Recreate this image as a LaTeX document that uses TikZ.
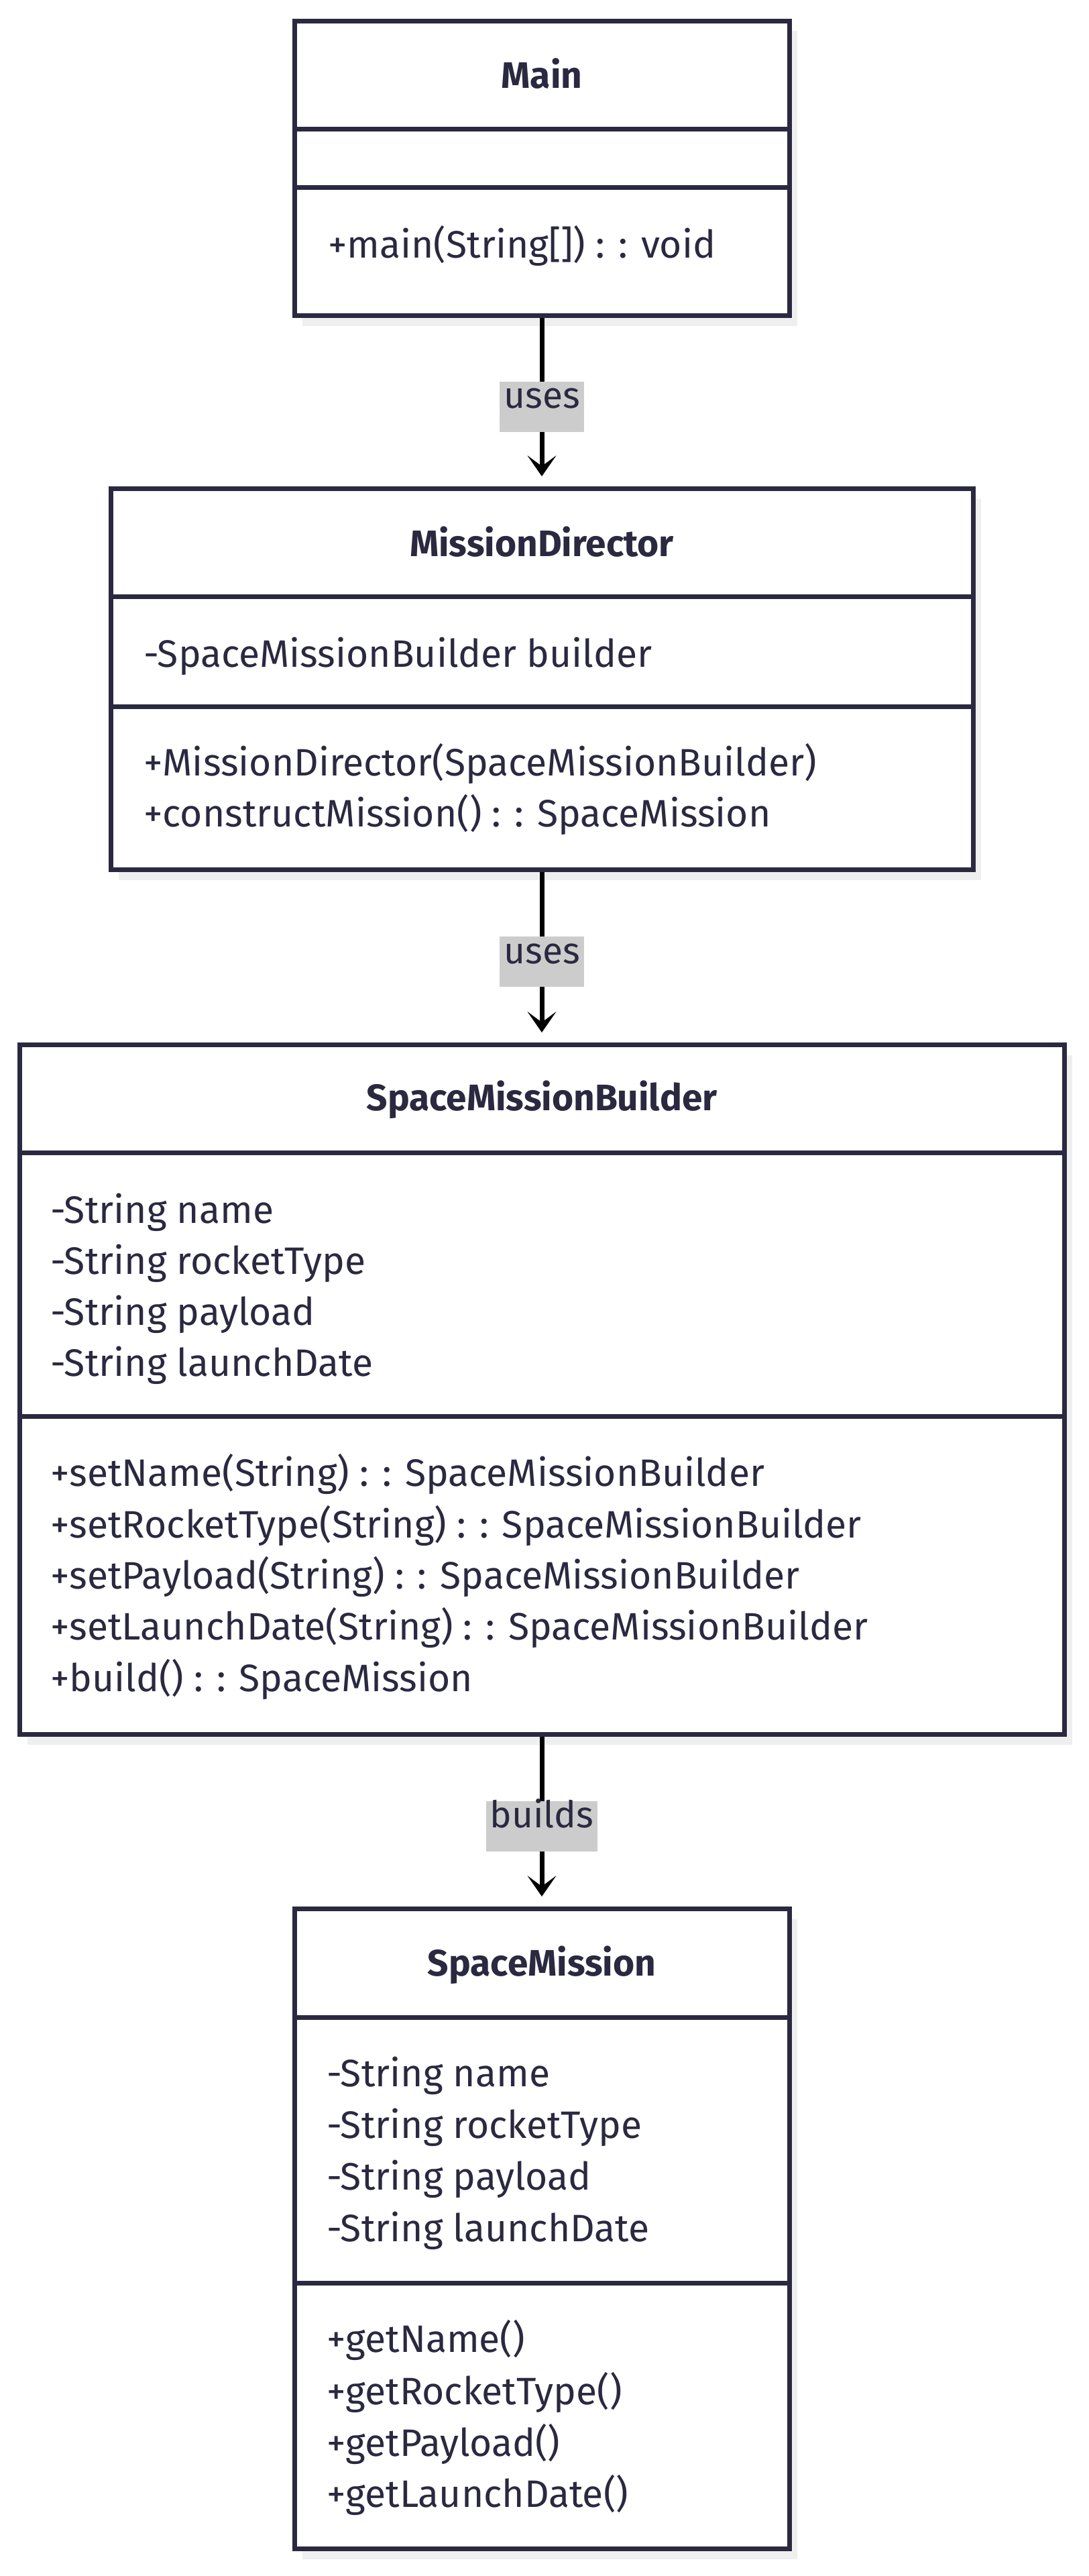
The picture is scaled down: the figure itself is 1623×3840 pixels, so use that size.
\documentclass[tikz,border=0pt]{standalone}
\usepackage{fontspec}
\setmainfont{Fira Sans}
\usetikzlibrary{arrows.meta,shadows}
\definecolor{ink}{RGB}{42,41,64}
\definecolor{lblbg}{RGB}{204,204,204}
\definecolor{shade}{RGB}{239,239,239}
\begin{document}
\begin{tikzpicture}[x=1pt,y=-1pt,
 classbox/.style={draw=ink, line width=7pt, fill=white, inner sep=0pt, anchor=north,
   drop shadow={shadow xshift=12pt, shadow yshift=-15pt, fill=shade, opacity=1}},
 divline/.style={draw=ink, line width=7pt},
 title/.style={font=\fontsize{55}{66}\selectfont\bfseries, text=ink, inner sep=0pt, text height=0.7em, text depth=0pt, yshift=-16pt},
 member/.style={font=\fontsize{57}{68}\selectfont, text=ink, inner sep=0pt, anchor=west, text height=0.7em, text depth=0pt, yshift=-15pt},
 conn/.style={draw=black, line width=7pt, -{Stealth[length=31pt, width=43pt, inset=16pt, line width=0.5pt]}},
 lbl/.style={fill=lblbg, text=ink, font=\fontsize{55}{66}\selectfont, inner xsep=6pt, inner ysep=0pt, minimum height=75pt, text height=0.5em, text depth=0pt, yshift=-14pt}
]
\path[use as bounding box, fill=white] (0,0) rectangle (1623,3840);

% ---------- Main ----------
\node[classbox, minimum width=738pt, minimum height=439pt] (main) at (808,28) {};
\draw[divline] (main.west |- 0,193) -- (main.east |- 0,193);
\draw[divline] (main.west |- 0,280) -- (main.east |- 0,280);
\node[title] (main-t) at (808,112) {Main};
\node[member] (main-m1) at (489,366) {+main(String[]) : : void};

% ---------- MissionDirector ----------
\node[classbox, minimum width=1286pt, minimum height=568pt] (md) at (808,725) {};
\draw[divline] (md.west |- 0,889) -- (md.east |- 0,889);
\draw[divline] (md.west |- 0,1053) -- (md.east |- 0,1053);
\node[title] (md-t) at (808,810) {MissionDirector};
\node[member] (md-a1) at (214,976) {-SpaceMissionBuilder builder};
\node[member] (md-m1) at (214,1138) {+MissionDirector(SpaceMissionBuilder)};
\node[member] (md-m2) at (214,1214) {+constructMission() : : SpaceMission};

% ---------- SpaceMissionBuilder ----------
\node[classbox, minimum width=1558pt, minimum height=1028pt] (smb) at (808,1554) {};
\draw[divline] (smb.west |- 0,1718) -- (smb.east |- 0,1718);
\draw[divline] (smb.west |- 0,2111) -- (smb.east |- 0,2111);
\node[title] (smb-t) at (808,1636) {SpaceMissionBuilder};
\node[member] (smb-a1) at (75,1805) {-String name};
\node[member] (smb-a2) at (75,1881) {-String rocketType};
\node[member] (smb-a3) at (75,1957) {-String payload};
\node[member] (smb-a4) at (75,2033) {-String launchDate};
\node[member] (smb-m1) at (75,2197) {+setName(String) : : SpaceMissionBuilder};
\node[member] (smb-m2) at (75,2274) {+setRocketType(String) : : SpaceMissionBuilder};
\node[member] (smb-m3) at (75,2350) {+setPayload(String) : : SpaceMissionBuilder};
\node[member] (smb-m4) at (75,2426) {+setLaunchDate(String) : : SpaceMissionBuilder};
\node[member] (smb-m5) at (75,2503) {+build() : : SpaceMission};

% ---------- SpaceMission ----------
\node[classbox, minimum width=738pt, minimum height=954pt] (sm) at (808,2842) {};
\draw[divline] (sm.west |- 0,3007) -- (sm.east |- 0,3007);
\draw[divline] (sm.west |- 0,3403) -- (sm.east |- 0,3403);
\node[title] (sm-t) at (808,2926) {SpaceMission};
\node[member] (sm-a1) at (487,3092) {-String name};
\node[member] (sm-a2) at (487,3169) {-String rocketType};
\node[member] (sm-a3) at (487,3246) {-String payload};
\node[member] (sm-a4) at (487,3323) {-String launchDate};
\node[member] (sm-m1) at (487,3488) {+getName()};
\node[member] (sm-m2) at (487,3566) {+getRocketType()};
\node[member] (sm-m3) at (487,3643) {+getPayload()};
\node[member] (sm-m4) at (487,3719) {+getLaunchDate()};

% ---------- connectors ----------
\draw[conn] (main.south) -- node[lbl] (l1) {uses} ([yshift=15pt]md.north);
\draw[conn] (md.south) -- node[lbl] (l2) {uses} ([yshift=15pt]smb.north);
\draw[conn] (smb.south) -- node[lbl] (l3) {builds} ([yshift=15pt]sm.north);
\end{tikzpicture}
\end{document}
